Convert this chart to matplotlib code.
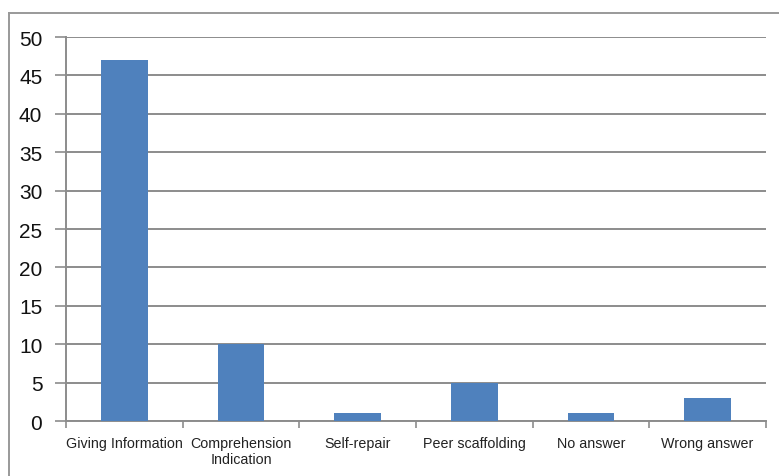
import numpy as np
import matplotlib.pyplot as plt
from matplotlib.lines import Line2D

# Datos
categorias = ['Giving Information', 'Comprehension\nIndication', 'Self-repair',
              'Peer scaffolding', 'No answer', 'Wrong answer']
valores = [47, 10, 1, 5, 1, 3]

plt.rcParams['font.family'] = ['Liberation Sans', 'DejaVu Sans']

fig = plt.figure(figsize=(7.79, 4.77), dpi=100)
ax = fig.add_axes([0.0847, 0.1153, 0.8986, 0.805])

x = np.arange(len(categorias))
ax.bar(x, valores, width=0.4, color='#4F81BD', zorder=3)

ax.set_xlim(-0.5, len(categorias) - 0.5)
ax.set_ylim(0, 50)
ax.set_yticks(np.arange(0, 51, 5))
ax.yaxis.grid(True, color='#8c8c8c', linewidth=1.4)
ax.set_axisbelow(True)

ax.set_xticks(x)
ax.set_xticklabels(categorias, fontsize=10.3, color='#222222')
ax.set_xticks(np.arange(-0.5, len(categorias), 1), minor=True)
ax.tick_params(axis='x', which='major', length=0, pad=11)
ax.tick_params(axis='x', which='minor', length=5, width=1.2, color='#8c8c8c')
ax.tick_params(axis='y', length=8, width=1.2, color='#8c8c8c', pad=9,
               labelsize=15, labelcolor='#111111')

for s in ['top', 'right']:
    ax.spines[s].set_visible(False)
for s in ['left', 'bottom']:
    ax.spines[s].set_color('#8c8c8c')
    ax.spines[s].set_linewidth(1.4)

# Marco exterior (solo arriba e izquierda)
fig.add_artist(Line2D([9 / 779, 1], [1 - 14 / 477, 1 - 14 / 477],
                      transform=fig.transFigure, color='#999999', lw=1.4))
fig.add_artist(Line2D([9 / 779, 9 / 779], [0, 1 - 14 / 477],
                      transform=fig.transFigure, color='#999999', lw=1.4))

fig.savefig('out.png', dpi=100)
